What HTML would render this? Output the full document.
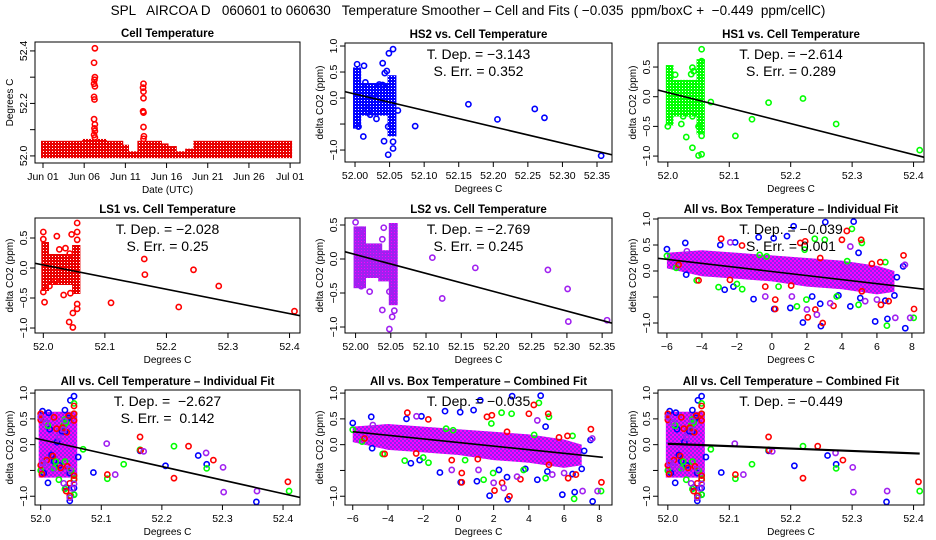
<!DOCTYPE html>
<html><head><meta charset="utf-8"><style>
html,body{margin:0;padding:0;background:#fff}
svg{display:block;font-family:"Liberation Sans",sans-serif}
</style></head><body>
<svg id="chart" xmlns="http://www.w3.org/2000/svg" width="936" height="540" viewBox="0 0 936 540">
<defs>
<pattern id="pat-red" width="3" height="3" patternUnits="userSpaceOnUse"><rect width="3" height="3" fill="#e80000"/><rect x="1" y="1" width="1" height="1" fill="#ffffff"/></pattern>
<pattern id="pat-blue" width="3" height="3" patternUnits="userSpaceOnUse"><rect width="3" height="3" fill="#0000ff"/><rect x="1" y="1" width="1" height="1" fill="#ffffff"/></pattern>
<pattern id="pat-green" width="3" height="3" patternUnits="userSpaceOnUse"><rect width="3" height="3" fill="#00ff00"/><rect x="1" y="1" width="1" height="1" fill="#ffffff"/></pattern>
<pattern id="pat-purple" width="3" height="3" patternUnits="userSpaceOnUse"><rect width="3" height="3" fill="#a020f0"/><rect x="1" y="1" width="1" height="1" fill="#ff00ff"/></pattern>
<pattern id="pat-mag" width="4" height="4" patternUnits="userSpaceOnUse"><rect width="4" height="4" fill="#ff00ff"/><rect width="2" height="2" fill="#9020f0"/><rect x="2" y="2" width="2" height="2" fill="#9020f0"/></pattern>
</defs>
<text x="468" y="15" font-size="13.5" text-anchor="middle" style="white-space:pre">SPL   AIRCOA D   060601 to 060630   Temperature Smoother – Cell and Fits ( −0.035  ppm/boxC +  −0.449  ppm/cellC)</text>
</svg>
<script>
// ---------- data ----------
const p1Days = [0, 5, 10, 15, 20, 25, 30];
const p1DayLabels = ["Jun 01","Jun 06","Jun 11","Jun 16","Jun 21","Jun 26","Jul 01"];
const p1SegStart = [0, 5, 7.5, 9.5, 10.2, 11.7, 14.2, 15, 16, 17.5, 18.5];
const p1SegEnd   = [5, 7.5, 9.5, 10.2, 11.7, 14.2, 15, 16, 17.5, 18.5, 30];
const p1SegTop   = [52.05, 52.057, 52.05, 52.035, 52.01, 52.05, 52.04, 52.03, 52.01, 52.02, 52.05];
const p1SpikeDay = [6.3,6.2,6.3,6.25,6.2,6.3,6.2,6.25,6.2,6.3,6.25,6.3,6.2,6.3, 12.2,12.15,12.2,12.2,12.15,12.2,12.2,12.25,12.2];
const p1SpikeVal = [52.41,52.355,52.30,52.29,52.275,52.265,52.225,52.215,52.14,52.12,52.105,52.095,52.08,52.07, 52.275,52.26,52.245,52.22,52.17,52.165,52.11,52.075,52.065];

const hs2X = [52.087,52.164,52.206,52.26,52.274,52.356,52.062,52.003,52.013,52.015,52.012,52.04,52.043,52.046,52.049,52.055,52.042,52.055,52.055,52.048,52.048,52.031,52.022,52.035,52.04,52.005,52.027,52.018];
const hs2Y = [-0.54,-0.12,-0.41,-0.21,-0.38,-1.11,-0.24,0.65,0.62,0.3,-0.74,0.67,0.48,0.52,0.86,0.94,-0.83,-0.84,-0.97,-1.09,-0.55,-0.4,-0.32,0.26,0.25,-0.55,0.05,-0.2];
const hs2Band = [[52.0,52.006,-0.55,0.55],[52.006,52.05,-0.3,0.25],[52.05,52.057,-0.7,0.4]];
const hs1X = [52.07,52.11,52.137,52.164,52.22,52.274,52.41,52.0,52.03,52.04,52.05,52.055,52.055,52.055,52.04,52.042,52.038,52.012,52.022,52.04,52.025,52.05,52.055];
const hs1Y = [-0.09,-0.66,-0.38,-0.1,-0.03,-0.46,-0.9,-0.5,-0.68,-0.86,-0.99,-0.97,0.8,0.6,0.49,0.43,0.38,0.37,-0.46,-0.33,-0.33,-0.5,-0.66];
const hs1Band = [[52.0,52.006,-0.45,0.5],[52.006,52.05,-0.3,0.25],[52.05,52.057,-0.6,0.6]];
const ls1X = [52.11,52.164,52.165,52.22,52.244,52.285,52.408,52.0,52.0,52.0,52.002,52.022,52.046,52.055,52.055,52.055,52.033,52.044,52.042,52.048,52.048,52.055,52.055,52.01,52.036,52.026,52.043,52.02];
const ls1Y = [-0.58,0.15,-0.11,-0.65,-0.03,-0.3,-0.72,0.6,0.48,-0.4,-0.57,0.53,0.56,0.75,0.6,0.47,-0.45,-0.42,-0.9,-0.99,-0.75,-0.68,-0.6,-0.3,0.33,0.31,0.24,-0.22];
const ls1Band = [[52.0,52.006,-0.35,0.4],[52.006,52.05,-0.25,0.2],[52.05,52.057,-0.4,0.35]];
const ls2X = [52.109,52.123,52.17,52.273,52.301,52.302,52.357,52.0,52.04,52.038,52.02,52.038,52.048,52.052,52.055,52.048,52.003,52.008,52.03,52.008];
const ls2Y = [0.02,-0.58,-0.13,-0.16,-0.44,-0.92,-0.9,0.54,0.46,0.29,-0.48,-0.75,-1.03,-0.85,-0.76,-0.48,-0.35,-0.4,0.14,0.43];
const ls2Band = [[52.0,52.012,-0.4,0.45],[52.012,52.035,-0.25,0.2],[52.035,52.05,-0.3,0.1],[52.05,52.057,-0.65,0.5]];
const allCellBand = [[52.0,52.057,-0.6,0.6]];

const boxBlueX = [-6,-4.95,-4.9,-2.95,-2.7,-2.2,-2.1,-1.05,-0.76,0.1,0.13,0.86,1.05,1.24,1.77,2.3,2.76,2.8,3.05,3.8,4.48,4.67,4.95,5.05,5.9,6.48,6.6,7.14,7,7.62,7.5];
const boxBlueY = [0.42,0.54,-0.07,0.5,-0.36,-0.3,0.55,-0.54,0.65,0.63,-0.73,0.67,-0.71,0.86,-0.99,-0.49,-0.63,-1.06,0.94,-0.47,-0.68,0.95,0.35,-0.52,-0.97,-0.57,-0.92,-0.12,-0.47,-1.1,0.09];
const boxGreenX = [-6,-5.47,-4.3,-3.05,-2,-1.7,-0.7,0.38,1.43,1.87,1.97,2.45,3.02,3.7,4.57,4.95,5.14,6.48,6.57,8.1,4.3,-0.3];
const boxGreenY = [0.29,0.06,-0.18,-0.31,-0.25,-0.35,0.31,-0.3,-0.68,0.41,-0.55,0.62,0.6,-0.49,0.81,-0.65,0.54,0.17,-1.05,-0.9,0.19,0.28];
const boxRedX = [-5.33,-4.19,-2.9,-2.4,-1.71,-0.38,0.19,0.19,1.1,1.62,1.9,2.05,2.48,2.9,3.52,4,4.28,5.1,5.14,5.71,6.19,6.23,6.67,7.52,8.12,2.76];
const boxRedY = [0.12,-0.18,0.62,-0.17,0.49,-0.3,-0.55,-0.73,-0.28,0.54,0.57,-0.89,-0.74,-1.0,-0.67,0.6,0.77,0.6,-0.39,0.14,0.17,-0.65,-0.58,0.3,-0.73,0.25];
const boxPurpleX = [-4.86,-2.38,-0.38,1.14,2,2.57,3.33,4.48,5.33,6,7.05,7.9,7.6];
const boxPurpleY = [0.38,0.55,-0.49,-0.49,-0.74,-0.84,-0.62,0.47,-0.58,-0.55,-0.9,-0.9,0.12];
const boxBandX  = [-6, -4, -2, 0, 2, 4, 6, 7];
const boxBandLo = [0.05,-0.1,-0.15,-0.2,-0.3,-0.35,-0.45,-0.4];
const boxBandHi = [0.35,0.4,0.35,0.3,0.25,0.2,0.1,0.0];

const fitHS2 = [0.076,-3.143], fitHS1 = [0.070,-2.614], fitLS1 = [0.051,-2.028], fitLS2 = [0.065,-2.769];
const fitBoxInd = [-0.01,-0.039], fitCellInd = [0.101,-2.627], fitBoxComb = [0.042,-0.035], fitCellComb = [0.018,-0.466];

const cellTicks4 = [52.0,52.1,52.2,52.3,52.4];
const cellTicks35 = [52.00,52.05,52.10,52.15,52.20,52.25,52.30,52.35];
const boxTicks = [-6,-4,-2,0,2,4,6,8];

// ---------- drawing ----------
const NS = "http://www.w3.org/2000/svg";
const svg = document.getElementById('chart');
function mk(tag, attrs, parent) {
  const e = document.createElementNS(NS, tag);
  for (const k in attrs) e.setAttribute(k, attrs[k]);
  (parent || svg).appendChild(e);
  return e;
}
const colors = {blue:"#0000ff", green:"#00ff00", red:"#ff0000", purple:"#a020f0"};
let clipN = 0;

function panel(c) {
  const g = mk('g', {});
  
  
  const sx = v => c.L + (v - c.ux[0]) / (c.ux[1] - c.ux[0]) * (c.R - c.L);
  const sy = v => c.B - (v - c.uy[0]) / (c.uy[1] - c.uy[0]) * (c.B - c.T);
  c.sx = sx; c.sy = sy;
  const cid = 'clip' + (clipN++);
  const cp = mk('clipPath', {id: cid}, g);
  mk('rect', {x: c.L, y: c.T, width: c.R - c.L, height: c.B - c.T}, cp);
  const marks = mk('g', {'clip-path': 'url(#' + cid + ')'}, g);
  
  
  c.marks = marks;
  if (c.draw) c.draw(c);
  const bx = mk('rect', {x: c.L, y: c.T, width: c.R - c.L, height: c.B - c.T, fill: 'none', stroke: '#000', 'stroke-width': 1}, g);
  
  
  const t = mk('text', {x: (c.L + c.R) / 2, y: c.T - 5, 'font-size': 11.5, 'font-weight': 'bold', 'text-anchor': 'middle'}, g);
  t.textContent = c.title;
  
  
  const xa = mk('g', {}, g);
  
  
  const xs = c.xt.map(sx);
  mk('line', {x1: xs[0], x2: xs[xs.length-1], y1: c.B, y2: c.B, stroke: '#000'}, xa);
  c.xt.forEach((v, i) => {
    mk('line', {x1: xs[i], x2: xs[i], y1: c.B, y2: c.B + 5, stroke: '#000'}, xa);
    const lb = mk('text', {x: xs[i], y: c.B + 17, 'font-size': 10.5, 'text-anchor': 'middle'}, xa);
    lb.textContent = c.xl ? c.xl[i] : (c.xd != null ? v.toFixed(c.xd) : String(v).replace('-', '−'));
    
    
  });
  const xt = mk('text', {x: (c.L + c.R) / 2, y: c.B + 30, 'font-size': 10, 'text-anchor': 'middle'}, g);
  xt.textContent = c.xtitle;
  
  
  const ya = mk('g', {}, g);
  
  
  const ys = c.yt.map(sy);
  mk('line', {x1: c.L, x2: c.L, y1: ys[0], y2: ys[ys.length-1], stroke: '#000'}, ya);
  c.yt.forEach((v, i) => {
    mk('line', {x1: c.L, x2: c.L - 5, y1: ys[i], y2: ys[i], stroke: '#000'}, ya);
    const s = c.yl[i];
    if (s) {
      const lb = mk('text', {x: 0, y: 0, 'font-size': 10.5, 'text-anchor': 'middle', transform: 'translate(' + (c.L - 8) + ',' + ys[i] + ') rotate(-90)'}, ya);
      lb.textContent = s;
      
      
    }
  });
  const yt = mk('text', {x: 0, y: 0, 'font-size': 10, 'text-anchor': 'middle', transform: 'translate(' + (c.L - 22) + ',' + ((c.T + c.B) / 2) + ') rotate(-90)'}, g);
  yt.textContent = c.ytitle;
  
  
  (c.notes || []).forEach((s, i) => {
    const n = mk('text', {x: (c.L + c.R) / 2, y: c.T + 16 + i * 17, 'font-size': 14, 'text-anchor': 'middle'}, g);
    n.textContent = s;
    
    
  });
}

function bands(c, arr, pat) {
  arr.forEach(b => {
    const r = mk('rect', {x: c.sx(b[0]) - 2, y: c.sy(b[3]) - 2, width: c.sx(b[1]) - c.sx(b[0]) + 4, height: c.sy(b[2]) - c.sy(b[3]) + 4, fill: 'url(#' + pat + ')'}, c.marks);
    
    
  });
}
function pts(c, xs, ys, col) {
  xs.forEach((x, i) => {
    const p = mk('circle', {cx: c.sx(x), cy: c.sy(ys[i]), r: 2.6, fill: 'none', stroke: colors[col], 'stroke-width': 1.6}, c.marks);
    
    
  });
}
function fit(c, f, x0, xa, xb, w) {
  const l = mk('line', {x1: c.sx(xa), y1: c.sy(f[0] + f[1] * (xa - x0)), x2: c.sx(xb), y2: c.sy(f[0] + f[1] * (xb - x0)), stroke: '#000', 'stroke-width': w || 1.6}, c.marks);
  
  
}
function boxBand(c) {
  let d = '';
  boxBandX.forEach((x, i) => { d += (i ? 'L' : 'M') + c.sx(x) + ',' + c.sy(boxBandHi[i]); });
  for (let i = boxBandX.length - 1; i >= 0; i--) d += 'L' + c.sx(boxBandX[i]) + ',' + c.sy(boxBandLo[i]);
  const p = mk('path', {d: d + 'Z', fill: 'url(#pat-mag)'}, c.marks);
  
  
}

const Y4 = ["−1.0","","0.0","0.5","1.0"], YT4 = [-1,-0.5,0,0.5,1];
const DC = "delta CO2 (ppm)", DEG = "Degrees C";
const C1 = [35, 300], C2 = [345, 612], C3 = [658, 924];
const R1 = [43, 162], R2 = [218, 333], R3 = [390, 505];
const cellAll = c => {
  bands(c, allCellBand, 'pat-mag');
  pts(c, hs2X, hs2Y, 'blue'); pts(c, hs1X, hs1Y, 'green'); pts(c, ls1X, ls1Y, 'red'); pts(c, ls2X, ls2Y, 'purple');
};
const boxAll = c => {
  boxBand(c);
  pts(c, boxBlueX, boxBlueY, 'blue'); pts(c, boxGreenX, boxGreenY, 'green'); pts(c, boxRedX, boxRedY, 'red'); pts(c, boxPurpleX, boxPurpleY, 'purple');
};

panel({name:'cell-temperature-panel', title:'Cell Temperature', L:C1[0], R:C1[1], T:42, B:163, ux:[-0.97,31.2], uy:[51.973,52.434],
  xt:p1Days, xl:p1DayLabels, yt:[52.0,52.1,52.2,52.3,52.4], yl:["52.0","","52.2","","52.4"], xtitle:'Date (UTC)', ytitle:'Degrees C',
  draw: c => {
    p1SegStart.forEach((s, i) => {
      const r = mk('rect', {x: c.sx(s) - 2, y: c.sy(p1SegTop[i]) - 2, width: c.sx(p1SegEnd[i]) - c.sx(s) + 4, height: c.sy(51.999) - c.sy(p1SegTop[i]) + 4, fill: 'url(#pat-red)'}, c.marks);
      
      
    });
    pts(c, p1SpikeDay, p1SpikeVal, 'red');
  }});
panel({name:'hs2-panel', title:'HS2 vs. Cell Temperature', L:C2[0], R:C2[1], T:R1[0], B:R1[1], ux:[51.9855,52.3717], uy:[-1.23,1.058],
  xt:cellTicks35, xd:2, yt:YT4, yl:Y4, xtitle:DEG, ytitle:DC, notes:["T. Dep. =  −3.143","S. Err. =  0.352"],
  draw: c => { bands(c, hs2Band, 'pat-blue'); pts(c, hs2X, hs2Y, 'blue'); fit(c, fitHS2, 52, 51.98, 52.38); }});
panel({name:'hs1-panel', title:'HS1 vs. Cell Temperature', L:C3[0], R:C3[1], T:R1[0], B:R1[1], ux:[51.984,52.417], uy:[-1.10,0.905],
  xt:cellTicks4, xd:1, yt:[-1,-0.5,0,0.5], yl:["−1.0","−0.5","0.0","0.5"], xtitle:DEG, ytitle:DC, notes:["T. Dep. =  −2.614","S. Err. =  0.289"],
  draw: c => { bands(c, hs1Band, 'pat-green'); pts(c, hs1X, hs1Y, 'green'); fit(c, fitHS1, 52, 51.98, 52.42); }});
panel({name:'ls1-panel', title:'LS1 vs. Cell Temperature', L:C1[0], R:C1[1], T:R2[0], B:R2[1], ux:[51.9865,52.417], uy:[-1.083,0.833],
  xt:cellTicks4, xd:1, yt:[-1,-0.5,0,0.5], yl:["−1.0","−0.5","0.0","0.5"], xtitle:DEG, ytitle:DC, notes:["T. Dep. =  −2.028","S. Err. =  0.25"],
  draw: c => { bands(c, ls1Band, 'pat-red'); pts(c, ls1X, ls1Y, 'red'); fit(c, fitLS1, 52, 51.98, 52.42); }});
panel({name:'ls2-panel', title:'LS2 vs. Cell Temperature', L:C2[0], R:C2[1], T:R2[0], B:R2[1], ux:[51.985,52.364], uy:[-1.088,0.603],
  xt:cellTicks35, xd:2, yt:[-1,-0.5,0,0.5], yl:["−1.0","−0.5","0.0","0.5"], xtitle:DEG, ytitle:DC, notes:["T. Dep. =  −2.769","S. Err. =  0.245"],
  draw: c => { bands(c, ls2Band, 'pat-purple'); pts(c, ls2X, ls2Y, 'purple'); fit(c, fitLS2, 52, 51.98, 52.37); }});
panel({name:'all-box-individual-panel', title:'All vs. Box Temperature – Individual Fit', L:C3[0], R:C3[1], T:R2[0], B:R2[1], ux:[-6.51,8.69], uy:[-1.192,1.019],
  xt:boxTicks, yt:YT4, yl:Y4, xtitle:DEG, ytitle:DC,
  draw: c => { boxAll(c); fit(c, fitBoxInd, 0, -6.6, 8.8); }});
panel({name:'all-cell-individual-panel', title:'All vs. Cell Temperature – Individual Fit', L:C1[0], R:C1[1], T:R3[0], B:R3[1], ux:[51.9906,52.428], uy:[-1.17,1.06],
  xt:cellTicks4, xd:1, yt:YT4, yl:Y4, xtitle:DEG, ytitle:DC,
  draw: c => { cellAll(c); fit(c, fitCellInd, 52, 51.98, 52.44); }});
panel({name:'all-box-combined-panel', title:'All vs. Box Temperature – Combined Fit', L:C2[0], R:C2[1], T:R3[0], B:R3[1], ux:[-6.44,8.72], uy:[-1.17,1.06],
  xt:boxTicks, yt:YT4, yl:Y4, xtitle:DEG, ytitle:DC,
  draw: c => { boxAll(c); fit(c, fitBoxComb, 0, -6, 8.2); }});
panel({name:'all-cell-combined-panel', title:'All vs. Cell Temperature – Combined Fit', L:C3[0], R:C3[1], T:R3[0], B:R3[1], ux:[51.984,52.417], uy:[-1.17,1.06],
  xt:cellTicks4, xd:1, yt:YT4, yl:Y4, xtitle:DEG, ytitle:DC, notes:["T. Dep. =  −0.449"],
  draw: c => { cellAll(c); fit(c, fitCellComb, 52, 52.0, 52.41, 2.2); }});

[['all-box-individual-panel', C3, R2, ["T. Dep. = −0.039","S. Err. = 0.001"]],
 ['all-cell-individual-panel', C1, R3, ["T. Dep. =  −2.627","S. Err. =  0.142"]],
 ['all-box-combined-panel', C2, R3, ["T. Dep. = −0.035"]]].forEach(a => {
  a[3].forEach((s, i) => {
    const n = mk('text', {x: (a[1][0] + a[1][1]) / 2, y: a[2][0] + 16 + i * 17, 'font-size': 14, 'text-anchor': 'middle', style: 'white-space:pre'});
    n.textContent = s;
    
    
  });
});
</script>
</body></html>
